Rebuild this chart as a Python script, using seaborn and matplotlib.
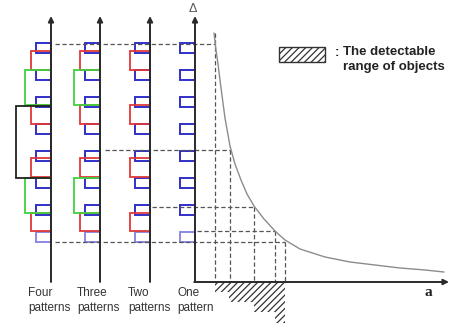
import matplotlib
matplotlib.use('Agg')
import matplotlib.pyplot as plt
import matplotlib.patches as mpatches
import seaborn as sns

# --- data (diagram units = pixels, y grows downward) ---
pattern_labels = ['Four\npatterns', 'Three\npatterns', 'Two\npatterns', 'One\npattern']
label_x = [28, 77, 128, 177]
axis_x = [51, 100, 150, 195]          # vertical axis of each pattern group
levels_shown = [4, 3, 2, 1]           # how many bracket levels each group has

blue_top = [43, 70, 97, 124, 151, 178, 205, 232]
red_top = [51, 105, 158, 213]
red_bottom = [70, 124, 177, 231]
green_top = [70, 178]
green_bottom = [105, 213]
black_top = [106]
black_bottom = [178]

# delta level of each pattern count and the matching a on the curve
delta_y = [44, 150, 207, 231, 242]
delta_from_x = [55, 105, 152, 197, 55]
delta_a = [215, 230, 254, 275, 285]

# curve  a * delta ~ const
curve_a = [214, 216, 218, 221, 225, 230, 235, 241, 247, 254, 264, 275, 285,
           300, 325, 350, 375, 400, 425, 444]
curve_d = [33, 50, 64, 88, 118, 146, 164, 180, 194, 206, 219, 231, 240,
           249, 257, 262, 265, 268, 270, 272]

# detectable range of objects (hatched steps)
range_left = [215, 229, 254, 275]
range_right = 285
range_rows = [287, 297, 307, 317.5]

sns.set_theme(style='white')
plt.rcParams['font.family'] = ['Liberation Sans', 'DejaVu Sans']
plt.rcParams['hatch.linewidth'] = 0.9

fig = plt.figure(figsize=(4.49, 3.27), dpi=100)
ax = fig.add_axes([0, 0, 1, 1])
ax.set_xlim(0, 449)
ax.set_ylim(327, 0)
ax.axis('off')

# rectangles on the pattern axes
blue_cols = ['#3030c8'] * 7 + ['#8a8ae6']
for x0, lv in zip(axis_x, levels_shown):
    ax.barh([t + 4.75 for t in blue_top], 15, left=x0 - 15, height=9.5,
            fill=False, edgecolor=blue_cols, linewidth=1.4)
    if lv >= 2:
        ax.barh([(a + b) / 2 for a, b in zip(red_top, red_bottom)], 20, left=x0 - 20,
                height=[b - a for a, b in zip(red_top, red_bottom)],
                fill=False, edgecolor='#e03838', linewidth=1.3)
    if lv >= 3:
        ax.barh([(a + b) / 2 for a, b in zip(green_top, green_bottom)], 26, left=x0 - 26,
                height=[b - a for a, b in zip(green_top, green_bottom)],
                fill=False, edgecolor='#3ed23e', linewidth=1.3)
    if lv >= 4:
        ax.barh([(a + b) / 2 for a, b in zip(black_top, black_bottom)], 35, left=x0 - 35,
                height=[b - a for a, b in zip(black_top, black_bottom)],
                fill=False, edgecolor='#222222', linewidth=1.3)
    # the axis itself
    ax.annotate('', xy=(x0, 16), xytext=(x0, 282),
                arrowprops=dict(arrowstyle='-|>', lw=1.4, color='#2a2a2a',
                                mutation_scale=8, shrinkA=0, shrinkB=0))

# horizontal axis a
ax.annotate('', xy=(449, 282), xytext=(194.3, 282),
            arrowprops=dict(arrowstyle='-|>', lw=1.4, color='#2a2a2a',
                            mutation_scale=8, shrinkA=0, shrinkB=0))

# dashed guide lines
for i, (y, x0, xa) in enumerate(zip(delta_y, delta_from_x, delta_a)):
    ax.plot([x0, xa], [y, y], color='#555555', lw=0.9, dashes=(3.5, 2))
    top = curve_d[0] if i == 0 else y
    ax.plot([xa, xa], [top, 282], color='#555555', lw=0.9, dashes=(3.5, 2))

# curve
sns.lineplot(x=curve_a, y=curve_d, ax=ax, color='#8c8c8c', lw=1.0, estimator=None)

# hatched steps
ax.barh(range_rows, [range_right - l for l in range_left], left=range_left,
        height=[10, 10, 10, 11], color='white', edgecolor='#333333',
        hatch='/////', linewidth=0)

# legend box
ax.add_patch(mpatches.Rectangle((279, 47), 46, 15, facecolor='white',
                                edgecolor='#333333', hatch='/////', lw=1.0))
ax.text(335, 53, ':', fontsize=9.5, fontweight='bold', color='#222222',
        va='center', ha='left')
ax.text(343, 46, 'The detectable\nrange of objects', fontsize=9.5,
        fontweight='bold', color='#222222', va='top', ha='left', linespacing=1.35)

# labels
ax.text(193, 9, '\u0394', fontsize=9, color='#555555', ha='center', va='center')
ax.text(428, 293, 'a', fontsize=11, fontweight='bold', family='Liberation Serif',
        color='#222222', ha='center', va='center')
for lx, lab in zip(label_x, pattern_labels):
    ax.text(lx, 287, lab, fontsize=8.5, color='#333333', ha='left', va='top',
            linespacing=1.3)

fig.savefig('out.png', dpi=100)
